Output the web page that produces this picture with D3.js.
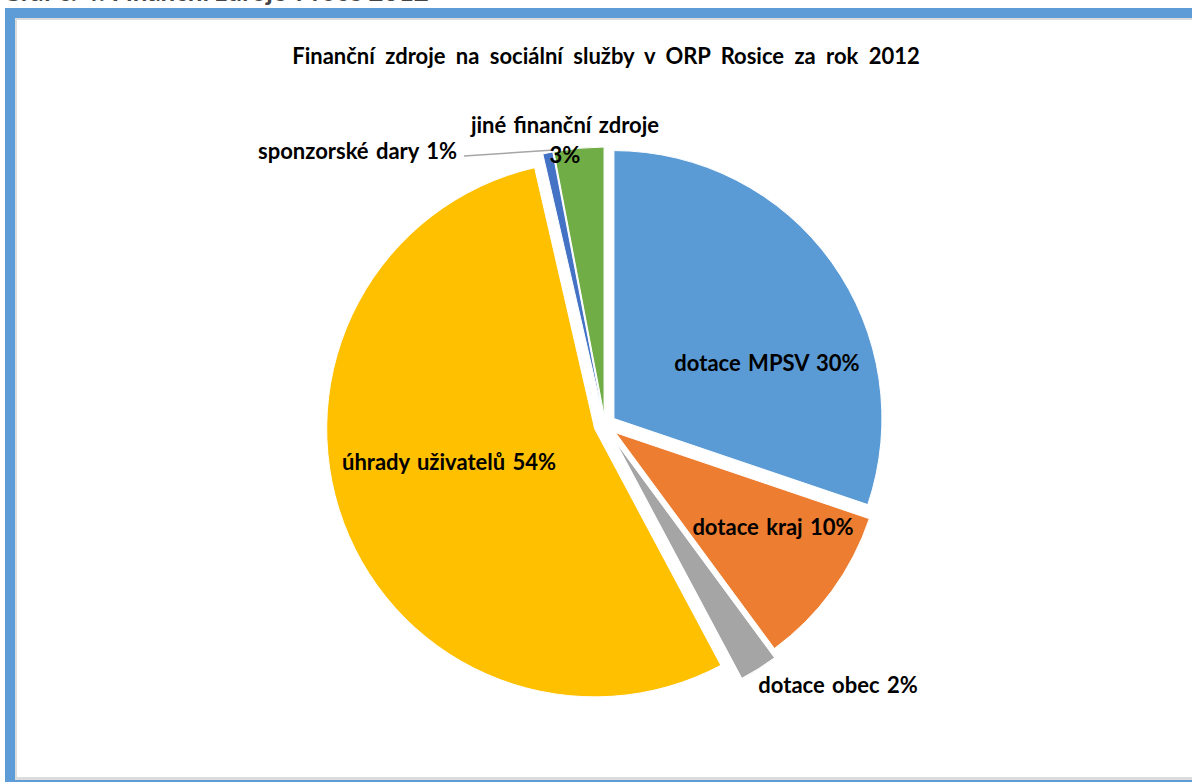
<!DOCTYPE html>
<html>
<head>
<meta charset="utf-8">
<script src="https://cdn.jsdelivr.net/npm/d3@7"></script>
<style>
  html, body { margin: 0; padding: 0; background: #fff; overflow: hidden; }
  text { font-family: Lato, "Open Sans", sans-serif; font-weight: bold; fill: #000; }
</style>
</head>
<body>
<div id="app"></div>
<script>
const WIDTH = 1192;
const HEIGHT = 782;

const title = 'Finanční zdroje na sociální služby v ORP Rosice za rok 2012';
const categories = ['dotace MPSV', 'dotace kraj', 'dotace obec', 'úhrady uživatelů', 'sponzorské dary', 'jiné finanční zdroje'];
const shares = [30.2, 9.7, 2.3, 54.2, 0.6, 3.0];
const colors = ['#5b9bd5', '#ed7d31', '#a5a5a5', '#ffc000', '#4472c4', '#70ad47'];

// how far each slice is pulled out of the pie
const explode = [11, 13, 20, 11, 10, 10];
// label anchor relative to pie centre
const labelAt = [[162, -54], [168, 110], [233, 268], [-156, 45], [-148, -266], [-40, -292]];

const cx = 605, cy = 425, radius = 268;

const svg = d3.select('#app')
  .append('svg')
    .attr('width', WIDTH)
    .attr('height', HEIGHT);

// frame of the surrounding document box
const frame = svg.append('g');
frame.append('rect').attr('x', 5).attr('y', 8).attr('width', WIDTH).attr('height', 774).attr('fill', '#5e9cd7');
frame.append('rect').attr('x', 15).attr('y', 18).attr('width', WIDTH).attr('height', 762).attr('fill', '#dcdcdc');
frame.append('rect').attr('x', 17).attr('y', 20).attr('width', WIDTH).attr('height', 757).attr('fill', '#fff');

// heading of the page above, cut off by the screenshot
svg.append('text')
  .attr('x', 2)
  .attr('y', 1)
  .style('font-size', '26px')
  .style('fill', '#444')
  .text('Graf č. 4: Finanční zdroje v roce 2012');

svg.append('text')
  .attr('x', 606)
  .attr('y', 64)
  .attr('text-anchor', 'middle')
  .style('font-size', '22px')
  .style('word-spacing', '5px')
  .text(title);

const pie = d3.pie().sort(null).value(d => d)(shares);
const arc = d3.arc().innerRadius(0).outerRadius(radius);

const slices = svg.append('g')
  .attr('transform', `translate(${cx},${cy})`);

slices.selectAll('path')
  .data(pie)
  .enter()
    .append('path')
    .attr('d', arc)
    .attr('fill', (d, i) => colors[i])
    .attr('stroke', '#fff')
    .attr('stroke-width', 1)
    .attr('transform', (d, i) => {
      const a = (d.startAngle + d.endAngle) / 2;
      return `translate(${Math.sin(a) * explode[i]},${-Math.cos(a) * explode[i]})`;
    });

const labels = slices.append('g')
  .style('font-size', '22px')
  .style('word-spacing', '2px');

pie.forEach((d, i) => {
  const [lx, ly] = labelAt[i];
  const pct = Math.round(d.value) + '%';
  if (i === 4) {
    labels.append('path')
      .attr('d', d3.line()([[lx + 7, ly - 3], [lx + 97, ly - 9]]))
      .attr('stroke', '#a6a6a6')
      .attr('stroke-width', 1.5)
      .attr('fill', 'none');
    labels.append('text')
      .attr('x', lx)
      .attr('y', ly)
      .attr('text-anchor', 'end')
      .text(categories[i] + ' ' + pct);
  } else if (i === 5) {
    const t = labels.append('text')
      .attr('text-anchor', 'middle');
    t.append('tspan').attr('x', lx).attr('y', ly).text(categories[i]);
    t.append('tspan').attr('x', lx).attr('y', ly + 30).text(pct);
  } else {
    labels.append('text')
      .attr('x', lx)
      .attr('y', ly)
      .attr('text-anchor', 'middle')
      .text(categories[i] + ' ' + pct);
  }
});
</script>
</body>
</html>
